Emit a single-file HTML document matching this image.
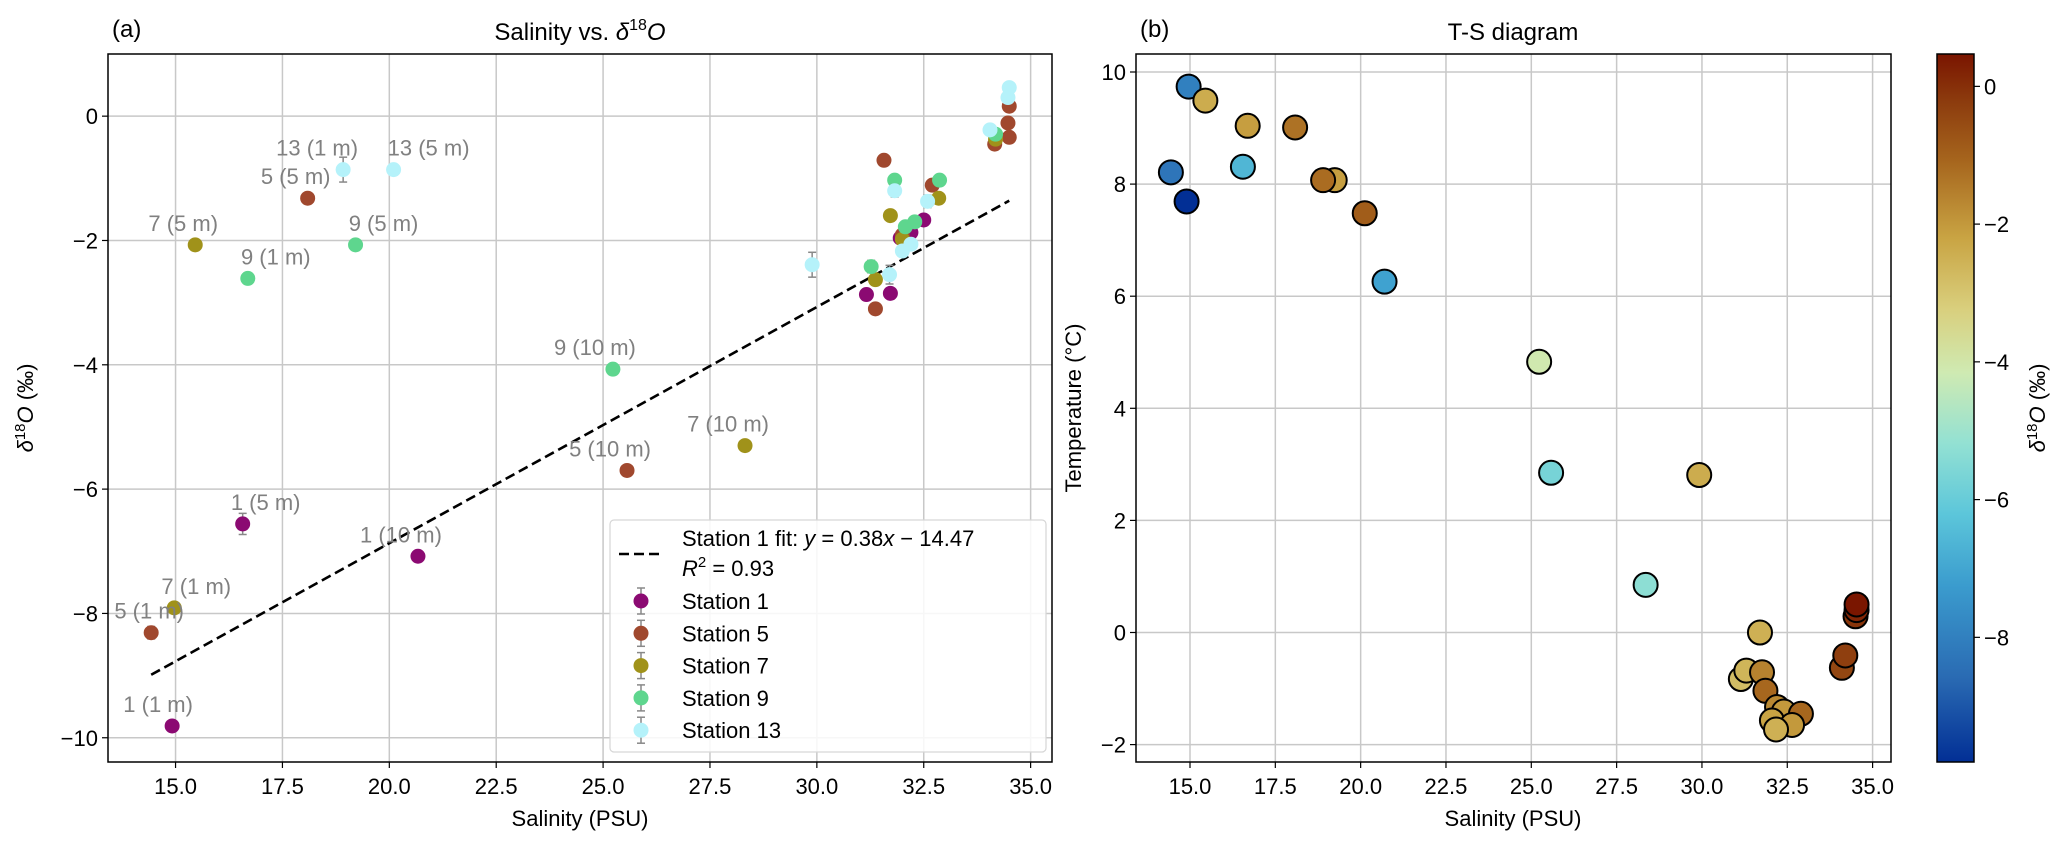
<!DOCTYPE html>
<html><head><meta charset="utf-8">
<style>
html,body{margin:0;padding:0;background:#fff;}
svg{display:block;font-family:"Liberation Sans",Arial,sans-serif;}
</style></head>
<body>
<svg id="fig" width="2067" height="847" viewBox="0 0 2067 847" xmlns="http://www.w3.org/2000/svg">
<defs>
<linearGradient id="cmap" x1="0" y1="1" x2="0" y2="0">
<stop offset="0" stop-color="#022f95"/>
<stop offset="0.12" stop-color="#2a6bb3"/>
<stop offset="0.25" stop-color="#3b9cce"/>
<stop offset="0.35" stop-color="#5cc6da"/>
<stop offset="0.45" stop-color="#93e1d3"/>
<stop offset="0.55" stop-color="#cfeab2"/>
<stop offset="0.64" stop-color="#d9cf7d"/>
<stop offset="0.74" stop-color="#c9a443"/>
<stop offset="0.85" stop-color="#a6651d"/>
<stop offset="0.93" stop-color="#8d3d0e"/>
<stop offset="1" stop-color="#7a1500"/>
</linearGradient>
</defs>
<g id="left"></g>
<g id="right"></g>
</svg>
<script>
// ---------- Panel (a) data ----------
const stationNames = ["Station 1","Station 5","Station 7","Station 9","Station 13"];
const stationColors = ["#8b0a72","#a0482e","#a0921a","#5ed68e","#b5f2fa"];
const s1Sal = [14.92,16.57,20.67,31.16,31.72,32.5,31.95,32.2];
const s1D18 = [-9.81,-6.56,-7.08,-2.87,-2.85,-1.67,-1.96,-1.87];
const s5Sal = [14.43,18.09,25.56,31.57,31.37,32.7,34.16,34.47,34.5,34.5,32.0];
const s5D18 = [-8.31,-1.32,-5.70,-0.71,-3.10,-1.11,-0.45,-0.11,0.16,-0.34,-1.91];
const s7Sal = [14.97,15.46,28.32,31.72,31.37,32.85,34.18,32.0];
const s7D18 = [-7.91,-2.07,-5.30,-1.60,-2.63,-1.32,-0.37,-1.98];
const s9Sal = [16.69,19.21,25.23,31.27,31.82,32.87,32.07,32.29,34.18];
const s9D18 = [-2.61,-2.07,-4.07,-2.42,-1.03,-1.03,-1.78,-1.70,-0.29];
const s13Sal = [18.92,20.1,29.89,31.7,31.82,32.59,32.0,32.2,34.05,34.47,34.5];
const s13D18 = [-0.86,-0.86,-2.39,-2.55,-1.20,-1.37,-2.17,-2.06,-0.22,0.30,0.46];
const s1Err = [0.05,0.17,0.05,0.05,0.05,0.05,0.05,0.05];
const s5Err = [0.1,0.05,0.05,0.05,0.05,0.08,0.05,0.05,0.05,0.05,0.05];
const s7Err = [0.05,0.05,0.05,0.05,0.05,0.05,0.05,0.05];
const s9Err = [0.05,0.05,0.05,0.1,0.05,0.05,0.05,0.05,0.05];
const s13Err = [0.2,0.05,0.2,0.15,0.1,0.1,0.05,0.05,0.05,0.05,0.05];
const pointLabels = [
 ["1 (1 m)",14.92,-9.81],["1 (5 m)",16.57,-6.56],["1 (10 m)",20.67,-7.08],
 ["5 (1 m)",14.43,-8.31],["5 (5 m)",18.09,-1.32],["5 (10 m)",25.56,-5.70],
 ["7 (1 m)",14.97,-7.91],["7 (5 m)",15.46,-2.07],["7 (10 m)",28.32,-5.30],
 ["9 (1 m)",16.69,-2.61],["9 (5 m)",19.21,-2.07],["9 (10 m)",25.23,-4.07],
 ["13 (1 m)",18.92,-0.86],["13 (5 m)",20.1,-0.86]
];
const fitSlope = [0.38];
const fitIntercept = [-14.47];
const fitRange = [14.43,34.5];
const aXTicks = [15,17.5,20,22.5,25,27.5,30,32.5,35];
const aYTicks = [0,-2,-4,-6,-8,-10];
// label placement nudges (pixels, layout only)
const labelNudge = [-14,23,-17,-2,-12,-17,22,-12,-17,28,28,-18,-26,35];

// ---------- Panel (b) data ----------
const tsSal = [14.96,15.45,16.69,18.08,14.44,16.55,14.9,19.24,18.9,20.12,20.7,25.23,25.58,29.92,28.35,31.7,
 31.14,31.3,31.76,31.86,32.2,32.4,32.9,32.05,32.64,32.17,34.1,34.2,34.5,34.53,34.53];
const tsTemp = [9.74,9.49,9.04,9.01,8.21,8.31,7.69,8.07,8.07,7.48,6.26,4.83,2.85,2.81,0.85,0.0,
 -0.83,-0.68,-0.71,-1.04,-1.33,-1.41,-1.45,-1.57,-1.65,-1.73,-0.63,-0.41,0.29,0.40,0.50];
const tsD18 = [-8.0,-2.4,-2.1,-1.3,-8.3,-6.6,-9.8,-2.1,-1.2,-0.9,-7.1,-4.1,-5.7,-2.4,-5.3,-2.5,
 -2.8,-2.6,-1.6,-1.1,-1.7,-2.0,-1.1,-2.2,-2.0,-2.5,-0.45,-0.3,-0.1,0.16,0.46];
const bXTicks = [15,17.5,20,22.5,25,27.5,30,32.5,35];
const bYTicks = [10,8,6,4,2,0,-2];
const cbTicks = [0,-2,-4,-6,-8];
const cbRange = [-9.81,0.47];

const NS="http://www.w3.org/2000/svg";
const FS=22, TFS=24;
function mk(parent,tag,attrs,text){const e=document.createElementNS(NS,tag);for(const k in attrs)e.setAttribute(k,attrs[k]);if(text!==undefined)e.textContent=text;parent.appendChild(e);return e;}

// ---------- Panel (a) ----------
const A={l:108,r:1052,t:54,b:762,x0:13.42,x1:35.5,y0:-10.39,y1:1.0};
const ax=v=>A.l+(v-A.x0)/(A.x1-A.x0)*(A.r-A.l);
const ay=v=>A.b-(v-A.y0)/(A.y1-A.y0)*(A.b-A.t);
const L=document.getElementById('left');
aXTicks.forEach(t=>{
 const g=mk(L,'line',{x1:ax(t),x2:ax(t),y1:A.t,y2:A.b,stroke:'#c8c8c8','stroke-width':1.5});
 
 
 mk(L,'line',{x1:ax(t),x2:ax(t),y1:A.b,y2:A.b+6,stroke:'#000','stroke-width':1.2});
 const tl=mk(L,'text',{x:ax(t),y:A.b+32,'text-anchor':'middle','font-size':FS},t.toFixed(1));
 
 
});
aYTicks.forEach(t=>{
 const g=mk(L,'line',{x1:A.l,x2:A.r,y1:ay(t),y2:ay(t),stroke:'#c8c8c8','stroke-width':1.5});
 
 
 mk(L,'line',{x1:A.l-6,x2:A.l,y1:ay(t),y2:ay(t),stroke:'#000','stroke-width':1.2});
 const tl=mk(L,'text',{x:A.l-10,y:ay(t)+8,'text-anchor':'end','font-size':FS},t===0?'0':'\u2212'+Math.abs(t));
 
 
});
const fl=mk(L,'line',{x1:ax(fitRange[0]),y1:ay(fitSlope[0]*fitRange[0]+fitIntercept[0]),x2:ax(fitRange[1]),y2:ay(fitSlope[0]*fitRange[1]+fitIntercept[0]),stroke:'#000','stroke-width':2.6,'stroke-dasharray':'10,5'});


const sal=[s1Sal,s5Sal,s7Sal,s9Sal,s13Sal], d18=[s1D18,s5D18,s7D18,s9D18,s13D18], errs=[s1Err,s5Err,s7Err,s9Err,s13Err];
sal.forEach((arr,si)=>{
 arr.forEach((s,i)=>{
  const cx=ax(s), cy=ay(d18[si][i]), e=errs[si][i];
  const y1=ay(d18[si][i]+e), y2=ay(d18[si][i]-e);
  mk(L,'line',{x1:cx,x2:cx,y1:y1,y2:y2,stroke:'#888','stroke-width':1.5});
  mk(L,'line',{x1:cx-4,x2:cx+4,y1:y1,y2:y1,stroke:'#888','stroke-width':1.5});
  mk(L,'line',{x1:cx-4,x2:cx+4,y1:y2,y2:y2,stroke:'#888','stroke-width':1.5});
  const c=mk(L,'circle',{cx:cx,cy:cy,r:7.5,fill:stationColors[si]});
  
  
 });
});
pointLabels.forEach((p,i)=>{
 const t=mk(L,'text',{x:ax(p[1])+labelNudge[i],y:ay(p[2])-14,'text-anchor':'middle','font-size':FS,fill:'#808080'},p[0]);
 
 
});
mk(L,'rect',{x:A.l,y:A.t,width:A.r-A.l,height:A.b-A.t,fill:'none',stroke:'#000','stroke-width':1.5});
const lg=mk(L,'g',{});


mk(lg,'rect',{x:610,y:520,width:436,height:232,rx:4,fill:'rgba(255,255,255,0.85)',stroke:'#d6d6d6','stroke-width':1.2});
mk(lg,'line',{x1:619,x2:664,y1:554,y2:554,stroke:'#000','stroke-width':2.6,'stroke-dasharray':'10,5'});
const lt=mk(lg,'text',{x:682,y:546,'font-size':FS});
lt.innerHTML='Station 1 fit: <tspan font-style="italic">y</tspan> = 0.38<tspan font-style="italic">x</tspan> \u2212 14.47';
const lt2=mk(lg,'text',{x:682,y:576,'font-size':FS});
lt2.innerHTML='<tspan font-style="italic">R</tspan><tspan font-size="15" dy="-9">2</tspan><tspan dy="9"> = 0.93</tspan>';
stationNames.forEach((n,i)=>{
 const y=601+i*32.3;
 mk(lg,'line',{x1:641,x2:641,y1:y-13,y2:y+13,stroke:'#888','stroke-width':1.5});
 mk(lg,'line',{x1:637,x2:645,y1:y-13,y2:y-13,stroke:'#888','stroke-width':1.5});
 mk(lg,'line',{x1:637,x2:645,y1:y+13,y2:y+13,stroke:'#888','stroke-width':1.5});
 mk(lg,'circle',{cx:641,cy:y,r:7.5,fill:stationColors[i]});
 const t=mk(lg,'text',{x:682,y:y+8,'font-size':FS},n);
 
 
});
mk(L,'text',{x:112,y:37,'font-size':TFS},'(a)');
const ta=mk(L,'text',{x:580,y:40,'text-anchor':'middle','font-size':TFS});
ta.innerHTML='Salinity vs. <tspan font-style="italic">\u03b4</tspan><tspan font-size="16" dy="-10">18</tspan><tspan dy="10" font-style="italic">O</tspan>';
mk(L,'text',{x:580,y:826,'text-anchor':'middle','font-size':FS},'Salinity (PSU)');
const yl=mk(L,'text',{transform:'translate(33,408) rotate(-90)','text-anchor':'middle','font-size':FS});
yl.innerHTML='<tspan font-style="italic">\u03b4</tspan><tspan font-size="15" dy="-8">18</tspan><tspan dy="8" font-style="italic">O</tspan> (\u2030)';

// ---------- Panel (b) ----------
const B={l:1136,r:1891,t:54,b:762};
const bx=v=>1190+(v-15)*34.13;
const by=v=>632.5-v*56.05;
const R=document.getElementById('right');
bXTicks.forEach(t=>{
 mk(R,'line',{x1:bx(t),x2:bx(t),y1:B.t,y2:B.b,stroke:'#c8c8c8','stroke-width':1.5});
 mk(R,'line',{x1:bx(t),x2:bx(t),y1:B.b,y2:B.b+6,stroke:'#000','stroke-width':1.2});
 const tl=mk(R,'text',{x:bx(t),y:B.b+32,'text-anchor':'middle','font-size':FS},t.toFixed(1));
 
 
});
bYTicks.forEach(t=>{
 mk(R,'line',{x1:B.l,x2:B.r,y1:by(t),y2:by(t),stroke:'#c8c8c8','stroke-width':1.5});
 mk(R,'line',{x1:B.l-6,x2:B.l,y1:by(t),y2:by(t),stroke:'#000','stroke-width':1.2});
 const tl=mk(R,'text',{x:B.l-10,y:by(t)+8,'text-anchor':'end','font-size':FS},t<0?'\u2212'+Math.abs(t):String(t));
 
 
});
const cstops=[[0,[2,47,149]],[0.12,[42,107,179]],[0.25,[59,156,206]],[0.35,[92,198,218]],[0.45,[147,225,211]],[0.55,[207,234,178]],[0.64,[217,207,125]],[0.74,[201,164,67]],[0.85,[166,101,29]],[0.93,[141,61,14]],[1,[122,21,0]]];
function cmap(v){let f=(v-cbRange[0])/(cbRange[1]-cbRange[0]);f=Math.max(0,Math.min(1,f));
 for(let i=1;i<cstops.length;i++){if(f<=cstops[i][0]){const a=cstops[i-1],b=cstops[i];const u=(f-a[0])/(b[0]-a[0]);
 return 'rgb('+a[1].map((c,k)=>Math.round(c+(b[1][k]-c)*u)).join(',')+')';}}return 'rgb(122,21,0)';}
tsSal.forEach((s,i)=>{
 const c=mk(R,'circle',{cx:bx(s),cy:by(tsTemp[i]),r:12,fill:cmap(tsD18[i]),stroke:'#000','stroke-width':2});
 
 
});
mk(R,'rect',{x:B.l,y:B.t,width:B.r-B.l,height:B.b-B.t,fill:'none',stroke:'#000','stroke-width':1.5});
mk(R,'text',{x:1140,y:37,'font-size':TFS},'(b)');
mk(R,'text',{x:1513,y:40,'text-anchor':'middle','font-size':TFS},'T-S diagram');
mk(R,'text',{x:1513,y:826,'text-anchor':'middle','font-size':FS},'Salinity (PSU)');
mk(R,'text',{transform:'translate(1081,408) rotate(-90)','text-anchor':'middle','font-size':FS},'Temperature (\u00b0C)');
const cb=mk(R,'g',{});


const cy=v=>762-(v-cbRange[0])/(cbRange[1]-cbRange[0])*708;
mk(cb,'rect',{x:1937,y:54,width:37,height:708,fill:'url(#cmap)',stroke:'#000','stroke-width':1.5});
cbTicks.forEach(t=>{
 mk(cb,'line',{x1:1974,x2:1980,y1:cy(t),y2:cy(t),stroke:'#000','stroke-width':1.2});
 const tl=mk(cb,'text',{x:1984,y:cy(t)+8,'font-size':FS},t===0?'0':'\u2212'+Math.abs(t));
 
 
});
const cl=mk(cb,'text',{transform:'translate(2045,408) rotate(-90)','text-anchor':'middle','font-size':FS});
cl.innerHTML='<tspan font-style="italic">\u03b4</tspan><tspan font-size="15" dy="-8">18</tspan><tspan dy="8" font-style="italic">O</tspan> (\u2030)';
</script>
</body></html>
